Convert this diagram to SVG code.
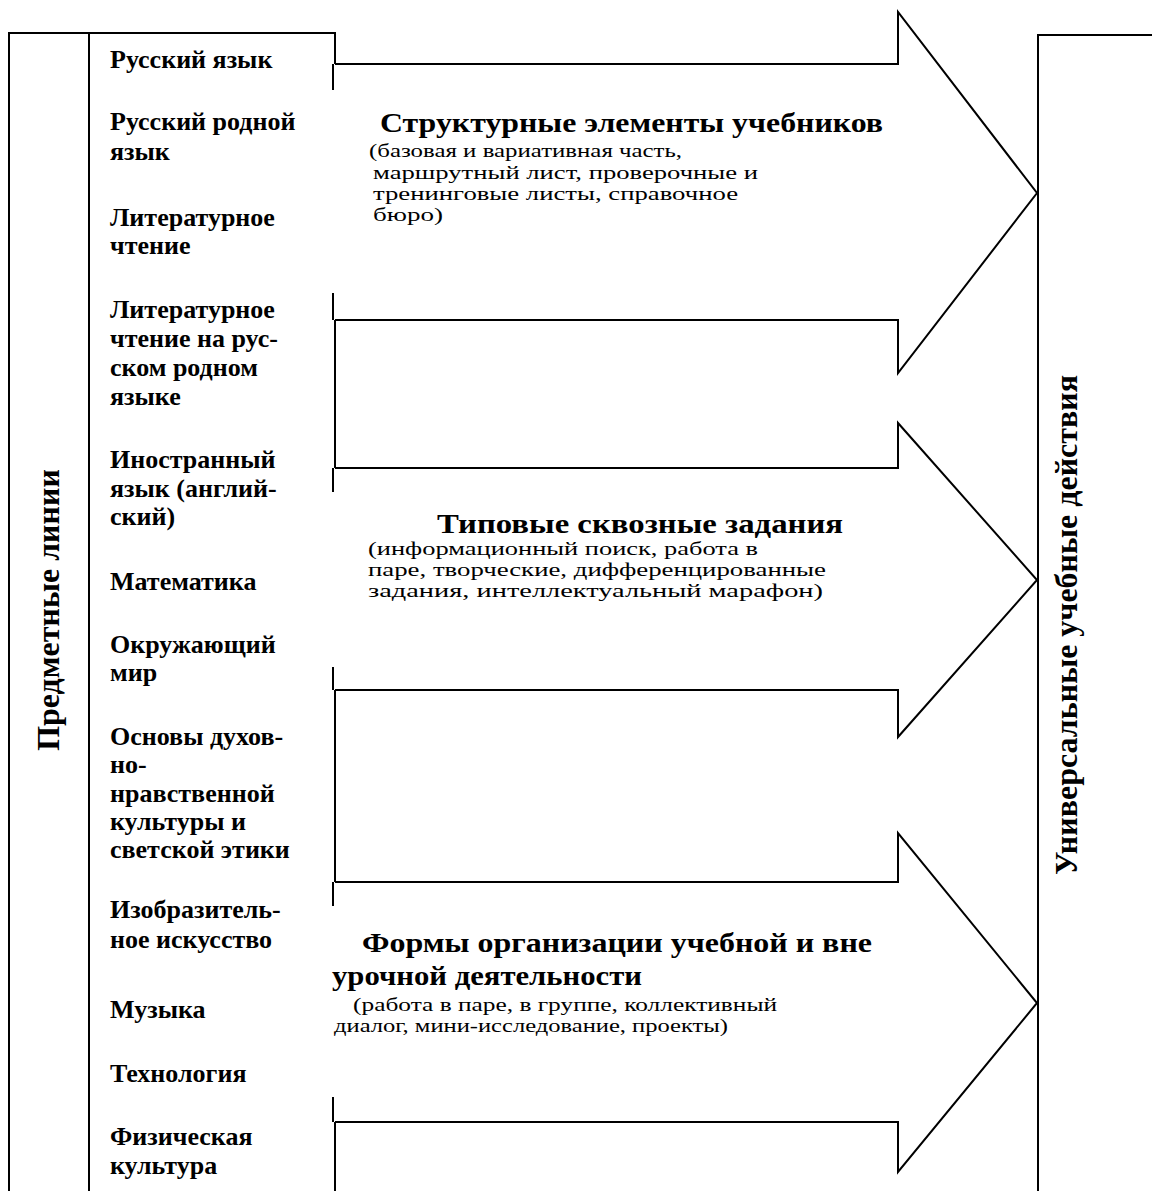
<svg xmlns="http://www.w3.org/2000/svg" width="1152" height="1191" viewBox="0 0 1152 1191">
<style>
.ln{stroke:#000;stroke-width:2;fill:none}
.ar{stroke:#000;stroke-width:2;fill:#fff;stroke-linejoin:miter}
.subj{font-family:"Liberation Serif","Times New Roman",serif;font-weight:bold;font-size:26px;fill:#000}
.head{font-family:"Liberation Serif","Times New Roman",serif;font-weight:bold;font-size:28px;fill:#000}
.body{font-family:"Liberation Serif","Times New Roman",serif;font-size:19px;fill:#000}
.vert{font-family:"Liberation Serif","Times New Roman",serif;font-weight:bold;font-size:32px;fill:#000}
</style>
<rect width="1152" height="1191" fill="#fff"/>

<g id="left-box">
<path class="ln" d="M9,1191 V33 H335 V64"/>
<path class="ln" d="M89,33 V1191"/>
<text class="vert" transform="translate(59,610) rotate(-90)" text-anchor="middle">Предметные линии</text>
</g>

<g id="subjects">
<text class="subj" x="110" y="68">Русский язык</text>
<text class="subj" x="110" y="130">Русский родной</text>
<text class="subj" x="110" y="160">язык</text>
<text class="subj" x="110" y="226">Литературное</text>
<text class="subj" x="110" y="254">чтение</text>
<text class="subj" x="110" y="318">Литературное</text>
<text class="subj" x="110" y="347">чтение на рус-</text>
<text class="subj" x="110" y="376">ском родном</text>
<text class="subj" x="110" y="405">языке</text>
<text class="subj" x="110" y="468">Иностранный</text>
<text class="subj" x="110" y="497">язык (англий-</text>
<text class="subj" x="110" y="525">ский)</text>
<text class="subj" x="110" y="590">Математика</text>
<text class="subj" x="110" y="653">Окружающий</text>
<text class="subj" x="110" y="681">мир</text>
<text class="subj" x="110" y="745">Основы духов-</text>
<text class="subj" x="110" y="773">но-</text>
<text class="subj" x="110" y="802">нравственной</text>
<text class="subj" x="110" y="830">культуры и</text>
<text class="subj" x="110" y="858">светской этики</text>
<text class="subj" x="110" y="918">Изобразитель-</text>
<text class="subj" x="110" y="948">ное искусство</text>
<text class="subj" x="110" y="1018">Музыка</text>
<text class="subj" x="110" y="1082">Технология</text>
<text class="subj" x="110" y="1145">Физическая</text>
<text class="subj" x="110" y="1174">культура</text>
</g>

<g id="connectors">
<path class="ln" d="M333,64 V90 M333,293 V320"/>
<path class="ln" d="M335,320 V468"/>
<path class="ln" d="M333,468 V492 M333,667 V690"/>
<path class="ln" d="M335,690 V882"/>
<path class="ln" d="M333,882 V906 M333,1097 V1122"/>
<path class="ln" d="M335,1122 V1191"/>
</g>

<g id="arrow-1">
<path class="ar" d="M335,64 H898 V12 L1037,193 L898,373 V320 H335"/>
<text class="head" x="380" y="132" textLength="503" lengthAdjust="spacingAndGlyphs">Структурные элементы учебников</text>
<text class="body" x="369" y="157" textLength="313" lengthAdjust="spacingAndGlyphs">(базовая и вариативная часть,</text>
<text class="body" x="373" y="179" textLength="385" lengthAdjust="spacingAndGlyphs">маршрутный лист, проверочные и</text>
<text class="body" x="373" y="200" textLength="365" lengthAdjust="spacingAndGlyphs">тренинговые листы, справочное</text>
<text class="body" x="373" y="221" textLength="70" lengthAdjust="spacingAndGlyphs">бюро)</text>
</g>

<g id="arrow-2">
<path class="ar" d="M335,468 H898 V423 L1037,580 L898,737 V690 H335"/>
<text class="head" x="437" y="533" textLength="406" lengthAdjust="spacingAndGlyphs">Типовые сквозные задания</text>
<text class="body" x="368" y="555" textLength="390" lengthAdjust="spacingAndGlyphs">(информационный поиск, работа в</text>
<text class="body" x="368" y="576" textLength="458" lengthAdjust="spacingAndGlyphs">паре, творческие, дифференцированные</text>
<text class="body" x="368" y="597" textLength="455" lengthAdjust="spacingAndGlyphs">задания, интеллектуальный марафон)</text>
</g>

<g id="arrow-3">
<path class="ar" d="M335,882 H898 V833 L1037,1003 L898,1172 V1122 H335"/>
<text class="head" x="362" y="952" textLength="510" lengthAdjust="spacingAndGlyphs">Формы организации учебной и вне</text>
<text class="head" x="332" y="985" textLength="310" lengthAdjust="spacingAndGlyphs">урочной деятельности</text>
<text class="body" x="353" y="1011" textLength="424" lengthAdjust="spacingAndGlyphs">(работа в паре, в группе, коллективный</text>
<text class="body" x="334" y="1032" textLength="394" lengthAdjust="spacingAndGlyphs">диалог, мини-исследование, проекты)</text>
</g>

<g id="right-box">
<path class="ln" d="M1152,35 H1038 V1191"/>
<text class="vert" transform="translate(1077,625) rotate(-90)" text-anchor="middle">Универсальные учебные действия</text>
</g>
</svg>
